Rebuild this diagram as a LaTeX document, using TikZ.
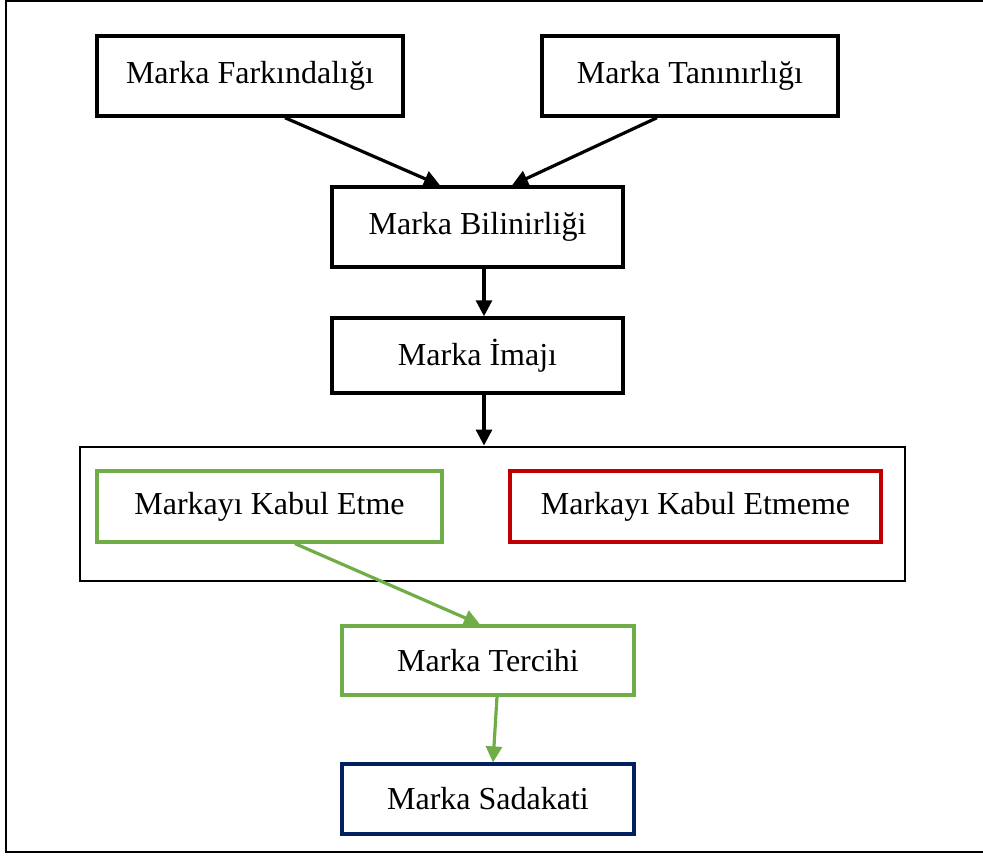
\documentclass[tikz,border=0pt]{standalone}
\usepackage{fontspec}
\setmainfont{Liberation Serif}
\usetikzlibrary{arrows.meta,calc}
\definecolor{okgreen}{HTML}{70AD47}
\definecolor{nored}{HTML}{C00000}
\definecolor{navy}{HTML}{002060}
\begin{document}
\begin{tikzpicture}[x=0.375pt,y=-0.375pt,
    every node/.style={draw,line width=1.3pt,inner sep=0pt,font=\fontsize{12}{14}\selectfont},
    arr/.style={line width=1.2pt,-{Triangle[length=6pt,width=6pt]}}]
            \useasboundingbox (0,0) rectangle (983,856);
            \clip (0,0) rectangle (983,856);
            \draw[line width=0.9pt] (6,1) rectangle (1000,852);
            \node[minimum width=306*0.375pt, minimum height=80*0.375pt] (fark) at (250,76) {Marka Farkındalığı};
            \node[minimum width=296*0.375pt, minimum height=80*0.375pt] (tanin) at (690,76) {Marka Tanınırlığı};
            \node[minimum width=291*0.375pt, minimum height=80*0.375pt] (bilin) at (477.5,227) {Marka Bilinirliği};
            \node[minimum width=291*0.375pt, minimum height=75*0.375pt] (imaj) at (477.5,355.5) {Marka İmajı};
            %
            \node[line width=1.1pt, minimum width=825*0.375pt, minimum height=134*0.375pt] (tutum) at (492.5,514) {};
            \node[draw=okgreen, line width=1.2pt, minimum width=345*0.375pt, minimum height=71*0.375pt] (kabul) at (269.5,506.5) {Markayı Kabul Etme};
            \node[draw=nored, line width=1.2pt, minimum width=371*0.375pt, minimum height=71*0.375pt] (ret) at (695.5,506.5) {Markayı Kabul Etmeme};
            %
            \node[draw=okgreen, line width=1.2pt, minimum width=292*0.375pt, minimum height=69*0.375pt] (tercih) at (488,660.5) {Marka Tercihi};
            \node[draw=navy, line width=1.2pt, minimum width=292*0.375pt, minimum height=70*0.375pt] (sadakat) at (488,799) {Marka Sadakati};
            %
            \draw[arr] ($(fark.south)+(35,0)$) -- ($(bilin.north)+(-37.5,0)$);
            \draw[arr] ($(tanin.south)+(-33,0)$) -- ($(bilin.north)+(34.5,0)$);
            \draw[arr] ($(bilin.south)+(6.5,0)$) -- ($(imaj.north)+(6.5,0)$);
            \draw[arr] ($(imaj.south)+(6.5,0)$) -- ($(tutum.north)+(-8.5,0)$);
            \draw[arr,okgreen] ($(kabul.south)+(25.5,0)$) -- ($(tercih.north)+(-8,0)$);
            \draw[arr,okgreen] ($(tercih.south)+(9,0)$) -- ($(sadakat.north)+(5,0)$);
        \end{tikzpicture}
\end{document}
